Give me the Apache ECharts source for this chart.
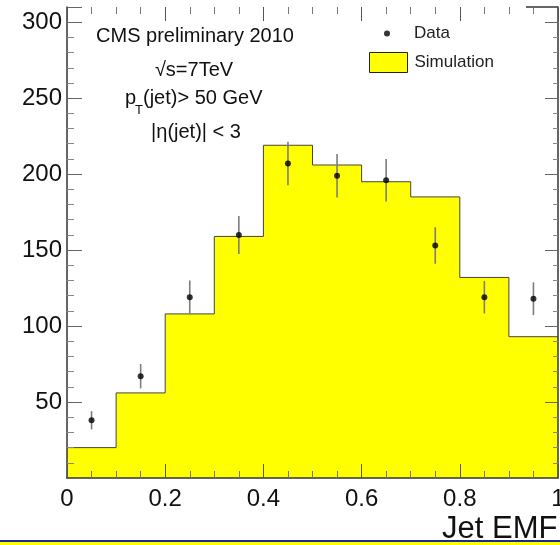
<!DOCTYPE html>
<html>
<head>
<meta charset="utf-8">
<script src="https://cdn.jsdelivr.net/npm/echarts@6/dist/echarts.min.js"></script>
<style>html,body{margin:0;padding:0;background:#fff}#c{width:560px;height:545px}</style>
</head>
<body>
<div id="c"></div>
<script>
// Simulation histogram: bin low edges and contents
const binLow = [0.0, 0.1, 0.2, 0.3, 0.4, 0.5, 0.6, 0.7, 0.8, 0.9];
const binHigh = 1.0;
const simulation = [20, 56, 108, 159, 219, 206, 195, 185, 132, 93];
// Data points: bin centres, values and errors
const dataX = [0.05, 0.15, 0.25, 0.35, 0.45, 0.55, 0.65, 0.75, 0.85, 0.95];
const dataY = [38, 67, 119, 160, 207, 199, 196, 153, 119, 118];
const dataErr = [6, 8, 11, 12.5, 14.3, 14.3, 14, 12, 10.7, 10.8];
// Axis settings
const xTicks = [0, 0.2, 0.4, 0.6, 0.8, 1];
const yTicks = [50, 100, 150, 200, 250, 300];

const FONT = '"Liberation Sans", Arial, Helvetica, sans-serif';

const histData = binLow.map((x, i) => [x, simulation[i]]);
histData.push([binHigh, simulation[simulation.length - 1]]);
const pts = dataX.map((x, i) => [x, dataY[i]]);
const errs = dataX.map((x, i) => [x, dataY[i] - dataErr[i], dataY[i] + dataErr[i]]);

const chart = echarts.init(document.getElementById('c'), null, {renderer: 'canvas'});

const tickStyle = {show: true, inside: true, length: 14, lineStyle: {color: '#555', width: 1}};
const minorStyle = {show: true, splitNumber: 4, length: 7, lineStyle: {color: '#777', width: 1}};
const yMinorStyle = {show: true, splitNumber: 5, length: 7, lineStyle: {color: '#888', width: 1}};

chart.setOption({
  animation: false,
  backgroundColor: '#fff',
  grid: {left: 67, right: 2, top: 7, bottom: 67, containLabel: false, outerBoundsMode: 'none'},
  xAxis: [{
    type: 'value', min: 0, max: 1, interval: 0.2, position: 'bottom', z: 5,
    axisLine: {show: true, onZero: false, lineStyle: {color: '#333', width: 1.5}},
    axisTick: tickStyle, minorTick: minorStyle,
    splitLine: {show: false},
    axisLabel: {show: true, color: '#111', fontSize: 24, fontFamily: FONT, margin: 9,
      formatter: v => xTicks.indexOf(Math.round(v * 10) / 10) >= 0 ? String(Math.round(v * 10) / 10) : ''}
  }, {
    type: 'value', min: 0, max: 1, interval: 0.2, position: 'top', z: 5,
    axisLine: {show: false, onZero: false},
    axisTick: tickStyle, minorTick: minorStyle,
    splitLine: {show: false}, axisLabel: {show: false}
  }],
  yAxis: [{
    type: 'value', min: 0, max: 310, interval: 50, position: 'left', z: 5,
    axisLine: {show: true, onZero: false, lineStyle: {color: '#333', width: 1.5}},
    axisTick: {show: true, inside: true, length: 15, lineStyle: {color: '#666', width: 1}},
    minorTick: yMinorStyle,
    splitLine: {show: false},
    axisLabel: {show: true, color: '#111', fontSize: 24, fontFamily: FONT, margin: 5, showMaxLabel: false,
      formatter: v => yTicks.indexOf(v) >= 0 ? String(v) : ''}
  }, {
    type: 'value', min: 0, max: 310, interval: 50, position: 'right', z: 5,
    axisLine: {show: true, onZero: false, lineStyle: {color: '#333', width: 1.5}},
    axisTick: {show: true, inside: true, length: 13, lineStyle: {color: '#666', width: 1}},
    minorTick: {show: true, splitNumber: 5, length: 5, lineStyle: {color: '#888', width: 1}},
    splitLine: {show: false}, axisLabel: {show: false}
  }],
  legend: [{
    data: [{name: 'Data', icon: 'circle'}],
    left: 379, top: 20, orient: 'vertical',
    itemWidth: 6, itemHeight: 6,
    textStyle: {fontSize: 17, fontFamily: FONT, color: '#222', padding: [0, 0, 0, 19]}
  }, {
    data: [{name: 'Simulation', icon: 'rect'}],
    left: 364, top: 47, orient: 'vertical',
    itemWidth: 38, itemHeight: 20,
    itemStyle: {borderColor: '#222', borderWidth: 1},
    textStyle: {fontSize: 17, fontFamily: FONT, color: '#222', padding: [0, 0, 0, 2]}
  }],
  series: [{
    name: 'Simulation', type: 'line', step: 'end', data: histData,
    symbol: 'none', lineStyle: {color: '#444', width: 1},
    itemStyle: {color: '#ffff00', borderColor: '#222', borderWidth: 1},
    areaStyle: {color: '#ffff00', opacity: 1}, z: 1
  }, {
    name: 'errors', type: 'custom', data: errs, z: 6,
    renderItem: (params, api) => {
      const p1 = api.coord([api.value(0), api.value(1)]);
      const p2 = api.coord([api.value(0), api.value(2)]);
      return {type: 'line', shape: {x1: p1[0], y1: p1[1], x2: p2[0], y2: p2[1]},
        style: {stroke: '#7d7d7d', lineWidth: 1.6}};
    }
  }, {
    name: 'Data', type: 'scatter', data: pts, symbol: 'circle', symbolSize: 6,
    itemStyle: {color: '#000'}, z: 7
  }],
  graphic: [
    {type: 'text', x: 195, y: 36, style: {text: 'CMS preliminary 2010', font: '20px ' + FONT, fill: '#111', textAlign: 'center', textVerticalAlign: 'middle', align: 'center', verticalAlign: 'middle'}},
    {type: 'text', x: 194, y: 70, style: {text: '\u221As=7TeV', font: '20px ' + FONT, fill: '#111', textAlign: 'center', textVerticalAlign: 'middle', align: 'center', verticalAlign: 'middle'}},
    {type: 'text', x: 125, y: 98, style: {text: 'p', font: '20px ' + FONT, fill: '#111', textAlign: 'left', textVerticalAlign: 'middle', align: 'left', verticalAlign: 'middle'}},
    {type: 'text', x: 135, y: 110, style: {text: 'T', font: '13px ' + FONT, fill: '#111', textAlign: 'left', textVerticalAlign: 'middle', align: 'left', verticalAlign: 'middle'}},
    {type: 'text', x: 143, y: 98, style: {text: '(jet)> 50 GeV', font: '20px ' + FONT, fill: '#111', textAlign: 'left', textVerticalAlign: 'middle', align: 'left', verticalAlign: 'middle'}},
    {type: 'text', x: 196, y: 132, style: {text: '|\u03B7(jet)| < 3', font: '20px ' + FONT, fill: '#111', textAlign: 'center', textVerticalAlign: 'middle', align: 'center', verticalAlign: 'middle'}},
    {type: 'text', x: 442, y: 529, style: {text: 'Jet EMF', font: '31px ' + FONT, fill: '#111', textAlign: 'left', textVerticalAlign: 'middle', align: 'left', verticalAlign: 'middle'}},
    {type: 'line', shape: {x1: 526, y1: 7, x2: 558, y2: 7}, style: {stroke: '#333', lineWidth: 1.5}},
    {type: 'rect', shape: {x: 0, y: 540, width: 560, height: 2}, style: {fill: '#1b2a9a'}, z: 100},
    {type: 'rect', shape: {x: 0, y: 542, width: 560, height: 3}, style: {fill: '#ffff00'}, z: 100}
  ]
});
</script>
</body>
</html>
